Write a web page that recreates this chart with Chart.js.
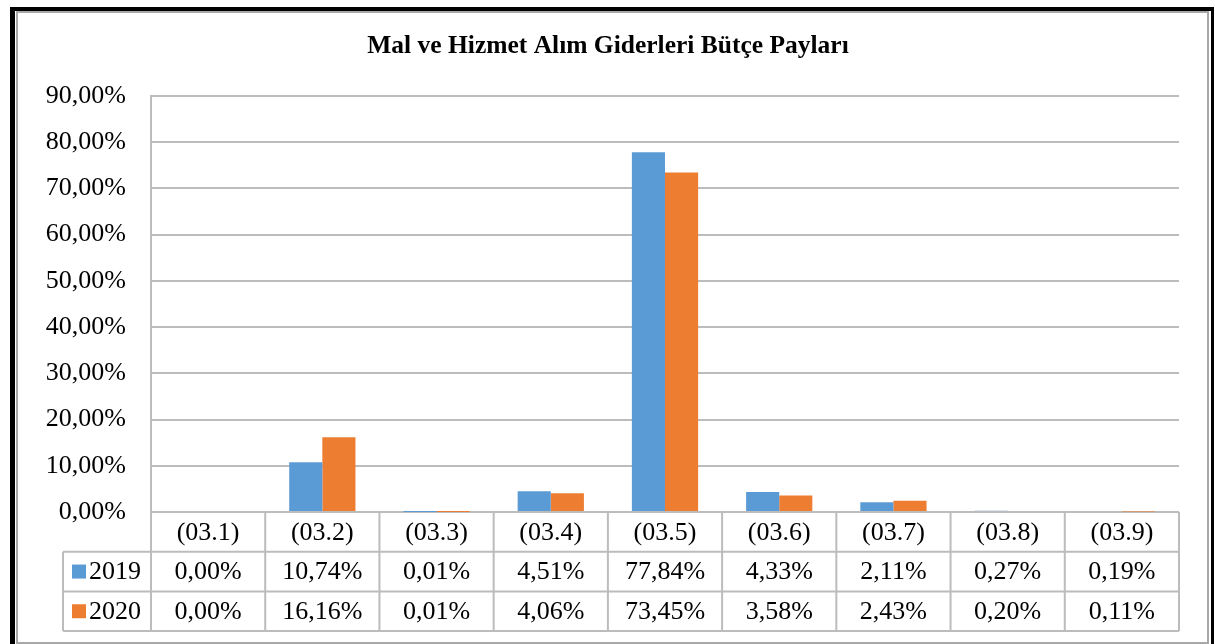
<!DOCTYPE html>
<html>
<head>
<meta charset="utf-8">
<script src="https://cdn.jsdelivr.net/npm/chart.js@4"></script>
<style>
  html, body { margin: 0; padding: 0; background: #fff; }
  canvas { display: block; }
</style>
</head>
<body>
<canvas id="chart" width="1215" height="644"></canvas>
<script>
// veriler
const categories = ['(03.1)', '(03.2)', '(03.3)', '(03.4)', '(03.5)', '(03.6)', '(03.7)', '(03.8)', '(03.9)'];
const seriesNames = ['2019', '2020'];
const values2019 = [0.00, 10.74, 0.01, 4.51, 77.84, 4.33, 2.11, 0.27, 0.19];
const values2020 = [0.00, 16.16, 0.01, 4.06, 73.45, 3.58, 2.43, 0.20, 0.11];
const yTicks = [0, 10, 20, 30, 40, 50, 60, 70, 80, 90];
const titleText = 'Mal ve Hizmet Alım Giderleri Bütçe Payları';

const colors = ['#5B9BD5', '#ED7D31'];
const gridColor = '#bcbcbc';
const FONT = '"Liberation Serif", "Times New Roman", serif';

const pct = v => v.toFixed(2).replace('.', ',') + '%';

// çerçeve, başlık ve veri tablosu
const framePlugin = {
    id: 'frame',
    beforeDraw(chart) {
        const c = chart.ctx;
        c.save();
        c.fillStyle = '#fff';
        c.fillRect(0, 0, chart.width, chart.height);
        // dış siyah çerçeve
        c.fillStyle = '#000';
        c.fillRect(10, 7, 1204, 4);
        c.fillRect(10, 7, 5, 637);
        c.fillRect(1211, 7, 3, 637);
        // iç gri çerçeve
        c.strokeStyle = '#a8a8a8';
        c.lineWidth = 2;
        c.strokeRect(17, 12, 1191, 631);
        c.restore();
    },
    afterDraw(chart) {
        const c = chart.ctx;
        const x = chart.scales.x;
        const area = chart.chartArea;
        const colW = x.getPixelForValue(1) - x.getPixelForValue(0);
        const rowH = 39.7;
        const top = area.bottom;
        const legendLeft = 63;

        c.save();
        // başlık
        c.fillStyle = '#000';
        c.font = 'bold 25.5px ' + FONT;
        c.textAlign = 'center';
        c.textBaseline = 'middle';
        c.fillText(titleText, 608, 46);

        // tablo çizgileri
        c.strokeStyle = gridColor;
        c.lineWidth = 2;
        c.beginPath();
        for (let r = 1; r <= 3; r++) {
            const y = top + r * rowH;
            c.moveTo(legendLeft, y);
            c.lineTo(area.right, y);
        }
        for (let i = 0; i <= categories.length; i++) {
            const xx = area.left + i * colW;
            c.moveTo(xx, top);
            c.lineTo(xx, top + 3 * rowH);
        }
        c.moveTo(legendLeft, top + rowH);
        c.lineTo(legendLeft, top + 3 * rowH);
        c.stroke();

        // tablo metinleri
        c.fillStyle = '#000';
        c.font = '26px ' + FONT;
        c.textAlign = 'center';
        categories.forEach((cat, i) => {
            const cx = x.getPixelForValue(i);
            c.fillText(cat, cx, top + rowH * 0.5 + 1);
        });
        const rows = [values2019, values2020];
        rows.forEach((vals, r) => {
            const cy = top + rowH * (r + 1.5) + 1;
            vals.forEach((v, i) => {
                c.fillText(pct(v), x.getPixelForValue(i), cy);
            });
            // lejant
            c.fillStyle = colors[r];
            c.fillRect(72, cy - 8, 14, 14);
            c.fillStyle = '#000';
            c.textAlign = 'left';
            c.fillText(seriesNames[r], 89, cy);
            c.textAlign = 'center';
        });
        c.restore();
    }
};

new Chart(document.getElementById('chart'), {
    type: 'bar',
    data: {
        labels: categories,
        datasets: [
            { label: seriesNames[0], data: values2019, backgroundColor: colors[0] },
            { label: seriesNames[1], data: values2020, backgroundColor: colors[1] }
        ]
    },
    options: {
        responsive: false,
        animation: false,
        layout: { padding: { top: 96, right: 36, bottom: 132, left: 0 } },
        datasets: {
            bar: { barPercentage: 1, categoryPercentage: 0.58 }
        },
        plugins: {
            legend: { display: false },
            title: { display: false },
            tooltip: { enabled: false }
        },
        scales: {
            x: { display: false },
            y: {
                min: 0,
                max: 90,
                afterBuildTicks: s => { s.ticks = yTicks.map(v => ({ value: v })); },
                afterFit: s => { s.width = 151; },
                ticks: {
                    padding: 25,
                    color: '#000',
                    font: { family: FONT, size: 26 },
                    callback: v => pct(v)
                },
                grid: { color: gridColor, lineWidth: 2, drawTicks: false },
                border: { display: true, color: gridColor, width: 2 }
            }
        }
    },
    plugins: [framePlugin]
});
</script>
</body>
</html>
